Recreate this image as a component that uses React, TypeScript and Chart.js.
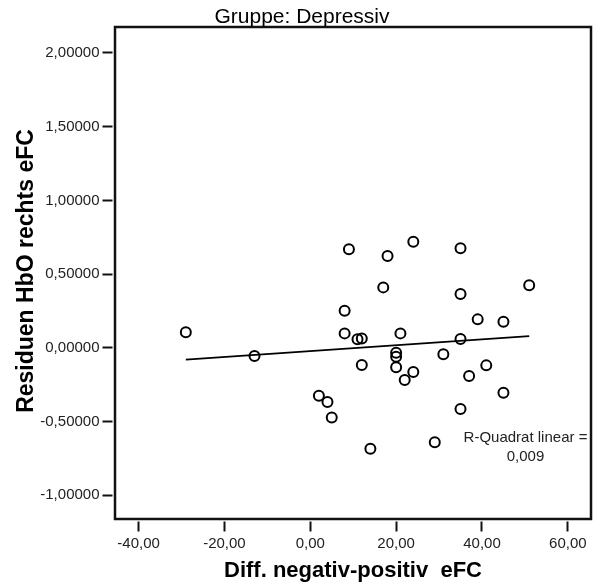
import React, { useEffect, useRef } from "react";
import { Chart, registerables } from "chart.js";

Chart.register(...registerables);

// Differenz negativ-positiv (eFC) je Person der Gruppe "Depressiv"
const diffNegPos = [
  9, 18, 24, 35, 17, 35, 51, 8, 39, 45, 8, 11, 12, 21, 35, 20, 20,
  20, 31, 12, 24, 22, 41, 37, 2, 4, 5, 45, 35, 14, 29, -29, -13,
];

// Residuen HbO rechts (eFC), gleiche Reihenfolge wie oben
const residuals = [
  0.668, 0.623, 0.72, 0.675, 0.41, 0.365, 0.424, 0.252, 0.193, 0.177,
  0.098, 0.058, 0.064, 0.098, 0.06, -0.033, -0.06, -0.132, -0.044,
  -0.117, -0.164, -0.218, -0.119, -0.191, -0.325, -0.368, -0.472,
  -0.305, -0.415, -0.685, -0.641, 0.105, -0.056,
];

const xTickValues = [-40, -20, 0, 20, 40, 60];
const yTickValues = [-1, -0.5, 0, 0.5, 1, 1.5, 2];

const chartTitle = "Gruppe: Depressiv";
const xAxisTitle = "Diff. negativ-positiv  eFC";
const yAxisTitle = "Residuen HbO rechts eFC";
const fitLabelLines = ["R-Quadrat linear =", "0,009"];

const FONT = "'Liberation Sans', Arial, Helvetica, sans-serif";
const INK = "#111";
const TEXT = "#222";

const W = 598;
const H = 586;

const formatDe = (v: number, digits: number) =>
  v.toFixed(digits).replace(".", ",");

// Ordinary least-squares line over the data range
function linearFit(xs: number[], ys: number[]) {
  const n = xs.length;
  const mx = xs.reduce((a, b) => a + b, 0) / n;
  const my = ys.reduce((a, b) => a + b, 0) / n;
  let sxy = 0;
  let sxx = 0;
  for (let i = 0; i < n; i++) {
    sxy += (xs[i] - mx) * (ys[i] - my);
    sxx += (xs[i] - mx) * (xs[i] - mx);
  }
  const slope = sxy / sxx;
  const intercept = my - slope * mx;
  const x0 = Math.min(...xs);
  const x1 = Math.max(...xs);
  return [
    { x: x0, y: intercept + slope * x0 },
    { x: x1, y: intercept + slope * x1 },
  ];
}

const decorations = {
  id: "decorations",
  afterDraw(chart: any) {
    const { ctx, chartArea } = chart;
    const { left, right, top, bottom } = chartArea;
    ctx.save();

    // plot frame
    ctx.lineWidth = 2.5;
    ctx.strokeStyle = INK;
    ctx.setLineDash([]);
    ctx.strokeRect(left, top, right - left, bottom - top);

    ctx.fillStyle = "#000";

    // title
    ctx.font = `21px ${FONT}`;
    ctx.textAlign = "center";
    ctx.textBaseline = "alphabetic";
    ctx.fillText(chartTitle, 302, 23);

    // x axis title
    ctx.font = `bold 22px ${FONT}`;
    ctx.fillText(xAxisTitle, (left + right) / 2, 577);

    // y axis title
    ctx.save();
    ctx.translate(33, (top + bottom) / 2 - 2);
    ctx.rotate(-Math.PI / 2);
    ctx.font = `bold 23px ${FONT}`;
    ctx.fillText(yAxisTitle, 0, 0);
    ctx.restore();

    // fit annotation
    ctx.fillStyle = TEXT;
    ctx.font = `15px ${FONT}`;
    ctx.fillText(fitLabelLines[0], 525.5, 441.5);
    ctx.fillText(fitLabelLines[1], 525.5, 460.5);

    ctx.restore();
  },
};

export default function App() {
  const canvasRef = useRef<HTMLCanvasElement | null>(null);

  useEffect(() => {
    const canvas = canvasRef.current;
    if (!canvas) return;

    const points = diffNegPos.map((x, i) => ({ x, y: residuals[i] }));
    const fitLine = linearFit(diffNegPos, residuals);

    const tickFont = { family: FONT, size: 15 };

    const chart = new Chart(canvas, {
      type: "scatter",
      data: {
        datasets: [
          {
            type: "scatter",
            data: points,
            pointRadius: 5,
            pointHoverRadius: 5,
            pointBorderWidth: 2,
            borderColor: "#000",
            backgroundColor: "rgba(0,0,0,0)",
          },
          {
            type: "line",
            data: fitLine,
            borderColor: "#000",
            borderWidth: 1.8,
            pointRadius: 0,
            fill: false,
          },
        ],
      } as any,
      options: {
        animation: false,
        responsive: false,
        maintainAspectRatio: false,
        events: [],
        layout: { padding: { top: 27, right: 6, bottom: 0, left: 0 } },
        plugins: {
          legend: { display: false },
          tooltip: { enabled: false },
          title: { display: false },
        },
        scales: {
          x: {
            type: "linear",
            min: -45.5,
            max: 65.4,
            afterBuildTicks: (s: any) => {
              s.ticks = xTickValues.map((v) => ({ value: v }));
            },
            afterFit: (s: any) => {
              s.height = H - 519;
            },
            border: { display: false },
            grid: {
              drawOnChartArea: false,
              drawTicks: true,
              tickLength: 12.5,
              tickWidth: 2,
              tickColor: INK,
              tickBorderDash: [10, 2.5],
              tickBorderDashOffset: 10,
            },
            ticks: {
              font: tickFont,
              color: TEXT,
              padding: 3,
              maxRotation: 0,
              autoSkip: false,
              callback: (v: any) => formatDe(Number(v), 2),
            },
          },
          y: {
            type: "linear",
            min: -1.161,
            max: 2.176,
            afterBuildTicks: (s: any) => {
              s.ticks = yTickValues.map((v) => ({ value: v }));
            },
            afterFit: (s: any) => {
              s.width = 115;
            },
            border: { display: false },
            grid: {
              drawOnChartArea: false,
              drawTicks: true,
              tickLength: 12.5,
              tickWidth: 2,
              tickColor: INK,
              tickBorderDash: [10, 2.5],
            },
            ticks: {
              font: tickFont,
              color: TEXT,
              padding: 3,
              autoSkip: false,
              callback: (v: any) => formatDe(Number(v), 5),
            },
          },
        },
      } as any,
      plugins: [decorations],
    });

    return () => chart.destroy();
  }, []);

  return (
    <div
      style={{
        position: "fixed",
        left: 0,
        top: 0,
        width: W,
        height: H,
        background: "#fff",
      }}
    >
      <canvas
        ref={canvasRef}
        width={W}
        height={H}
        style={{ display: "block", width: W, height: H }}
      />
    </div>
  );
}
